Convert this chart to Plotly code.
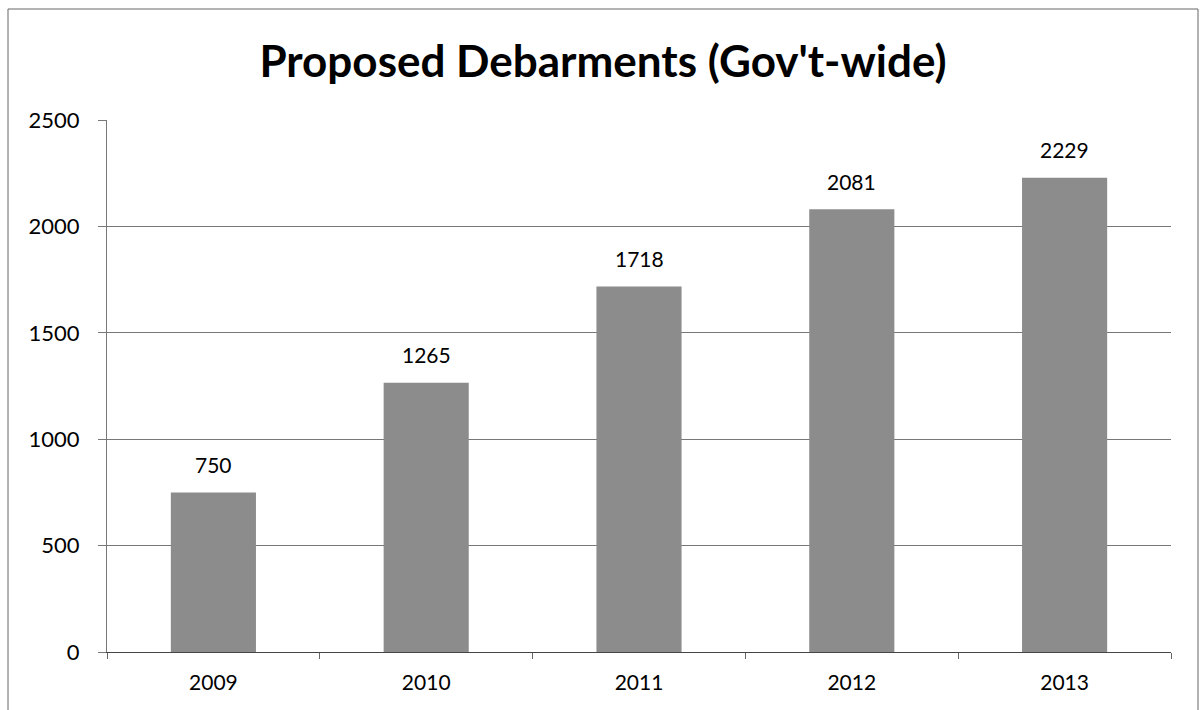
import plotly.graph_objects as go

years = ["2009", "2010", "2011", "2012", "2013"]
debarments = [750, 1265, 1718, 2081, 2229]
y_ticks = [0, 500, 1000, 1500, 2000, 2500]
title_text = "Proposed Debarments (Gov't-wide)"

W, H = 1201, 710
ml, mr, mt, mb = 107, 30, 120, 58
pw, ph = W - ml - mr, H - mt - mb
FONT = "Lato, Open Sans, sans-serif"

def px_x(x):
    return (x - ml) / pw

def px_y(y):
    return (H - mb - y) / ph

fig = go.Figure()
fig.add_trace(go.Bar(
    x=years, y=debarments,
    marker=dict(color="#8c8c8c", line=dict(width=0)),
    width=0.4,
    hoverinfo="x+y",
))

for i, v in enumerate(debarments):
    fig.add_annotation(x=i, y=v, text=str(v), showarrow=False,
                       xref="x", yref="y", yanchor="middle", yshift=28,
                       font=dict(family=FONT, size=21, color="#000000"))

fig.update_layout(
    width=W, height=H,
    margin=dict(l=ml, r=mr, t=mt, b=mb, autoexpand=False),
    paper_bgcolor="white", plot_bgcolor="white",
    showlegend=False,
    title=dict(text="<b>" + title_text + "</b>", x=px_x(603), xref="paper", xanchor="center",
               y=1 - 62 / H, yanchor="middle",
               font=dict(family=FONT, size=44, color="#000000")),
    font=dict(family=FONT, size=21, color="#000000"),
)
fig.update_xaxes(type="category", range=[-0.5, len(years) - 0.5],
                 showline=True, linecolor="#444444", linewidth=1,
                 ticks="outside", tickson="boundaries", ticklen=6, tickcolor="#666666",
                 showgrid=False, tickfont=dict(size=21), tickangle=0, ticklabelstandoff=12)
fig.update_yaxes(range=[0, 2500], tickvals=y_ticks, showgrid=True, gridcolor="#777777",
                 gridwidth=1, showline=True, linecolor="#777777", linewidth=1,
                 ticks="outside", ticklen=8, tickcolor="#777777", zeroline=False,
                 tickfont=dict(size=22), ticklabelstandoff=14)

fig.add_shape(type="rect", xref="paper", yref="paper",
              x0=px_x(8), x1=px_x(1198), y0=px_y(720), y1=px_y(9),
              line=dict(color="#666666", width=1), fillcolor="rgba(0,0,0,0)", layer="below")

fig.write_html("out.html")
